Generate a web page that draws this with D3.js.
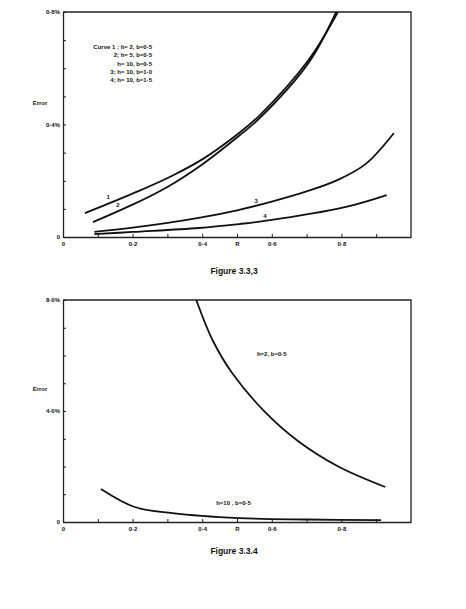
<!DOCTYPE html>
<html><head><meta charset="utf-8">
<script src="https://cdn.jsdelivr.net/npm/d3@7"></script>
<style>
body{margin:0;background:#fff;}
text{font-family:"Liberation Sans",Arial,sans-serif;font-weight:bold;fill:#111;}
</style></head>
<body><svg id="c" width="466" height="609"></svg>
<script>
// ---- Data (R, Error %) ----
const xTicks = [0,0.1,0.2,0.3,0.4,0.5,0.6,0.7,0.8,0.9];
const xTickLabels = {"0":"0","0.2":"0·2","0.4":"0·4","0.5":"R","0.6":"0·6","0.8":"0·8"};

const topYTicks = [0,0.1,0.2,0.3,0.4,0.5,0.6,0.7,0.8];
const topYTickLabels = {"0":"0","0.4":"0·4%","0.8":"0·8%"};
const curve1 = [[0.063,0.085],[0.22,0.165],[0.314,0.218],[0.4,0.276],[0.506,0.37],[0.563,0.43],[0.706,0.63],[0.79,0.8]];
const curve2 = [[0.086,0.053],[0.2,0.115],[0.3,0.178],[0.4,0.258],[0.506,0.36],[0.563,0.42],[0.706,0.62],[0.785,0.8]];
const curve3 = [[0.09,0.018],[0.2,0.033],[0.39,0.068],[0.5,0.095],[0.6,0.126],[0.7,0.162],[0.79,0.203],[0.87,0.26],[0.951,0.37]];
const curve4 = [[0.09,0.01],[0.2,0.018],[0.39,0.032],[0.506,0.046],[0.58,0.057],[0.81,0.106],[0.93,0.149]];
const topCurveLabels = [["1",0.13,0.135],["2",0.158,0.107],["3",0.555,0.12],["4",0.58,0.068]];
const legendLines = ["Curve 1 ; h= 2,  b=0·5","2; h=  5,  b=0·5","h= 10,  b=0·5","3; h= 10,  b=1·0","4; h= 10,  b=1·5"];

const botYTicks = [0,1,2,3,4,5,6,7,8];
const botYTickLabels = {"0":"0","4":"4·0%","8":"8·0%"};
const h2 = [[0.383,8.0],[0.43,6.55],[0.486,5.37],[0.583,3.93],[0.677,2.9],[0.791,2.0],[0.926,1.26]];
const h10 = [[0.109,1.19],[0.206,0.54],[0.314,0.32],[0.506,0.14],[0.7,0.09],[0.914,0.07]];
const botCurveLabels = [["h=2,  b=0·5",0.6,6.0],["h=10 ,  b=0·5",0.49,0.6]];

const captions = ["Figure 3.3,3","Figure 3.3.4"];

// ---- Drawing ----
const svg = d3.select("#c");
const x = d3.scaleLinear().domain([0,1]).range([63,411]);
const fmtKey = v => String(+v.toFixed(2));

function panel(yScale, yTicks, yLabels, curves, labels, errorY, caption, capY){
  const g = svg.append("g");
  g.append("path")
    .attr("d", `M${x(0)},${yScale.range()[1]}H${x(1)}V${yScale.range()[0]}`)
    .attr("fill","none").attr("stroke","#222").attr("stroke-width",1.3);
  const ya = d3.axisLeft(yScale).tickValues(yTicks).tickSizeInner(-3).tickSizeOuter(0).tickPadding(3)
     .tickFormat(v => yLabels[fmtKey(v)] || "");
  const yg = g.append("g").attr("transform",`translate(${x(0)},0)`).call(ya);
  yg.select(".domain").attr("stroke","#222").attr("stroke-width",1.3);
  yg.selectAll(".tick line").attr("stroke","#222");
  yg.selectAll("text").style("font-size","6px").attr("fill","#111");
  const xa = d3.axisBottom(x).tickValues(xTicks).tickSizeInner(-3).tickSizeOuter(0).tickPadding(5)
     .tickFormat(v => xTickLabels[fmtKey(v)] || "");
  const xg = g.append("g").attr("transform",`translate(0,${yScale.range()[0]})`).call(xa);
  xg.select(".domain").attr("stroke","#222").attr("stroke-width",1.3);
  xg.selectAll(".tick line").attr("stroke","#222");
  xg.selectAll("text").style("font-size","6px").attr("fill","#111");
  g.append("text").attr("x",40).attr("y",errorY).attr("text-anchor","middle").style("font-size","6px").text("Error");
  const line = d3.line().x(d=>x(d[0])).y(d=>yScale(d[1])).curve(d3.curveCatmullRom.alpha(0.5));
  curves.forEach(c => g.append("path").attr("d",line(c)).attr("fill","none").attr("stroke","#111").attr("stroke-width",1.8));
  labels.forEach(l => g.append("text").attr("x",x(l[1])).attr("y",yScale(l[2])).attr("text-anchor","middle").style("font-size","6px").text(l[0]));
  svg.append("text").attr("x",234).attr("y",capY).attr("text-anchor","middle").style("font-size","8.5px").text(caption);
  return g;
}

const yTop = d3.scaleLinear().domain([0,0.8]).range([237,12]);
const gTop = panel(yTop, topYTicks, topYTickLabels, [curve1,curve2,curve3,curve4], topCurveLabels, 105, captions[0], 274);
legendLines.forEach((t,i) => gTop.append("text").attr("x",152).attr("y",49+i*8.3).attr("text-anchor","end").style("font-size","6px").text(t));

const yBot = d3.scaleLinear().domain([0,8]).range([522,300]);
panel(yBot, botYTicks, botYTickLabels, [h2,h10], botCurveLabels, 391, captions[1], 554);
</script></body></html>
